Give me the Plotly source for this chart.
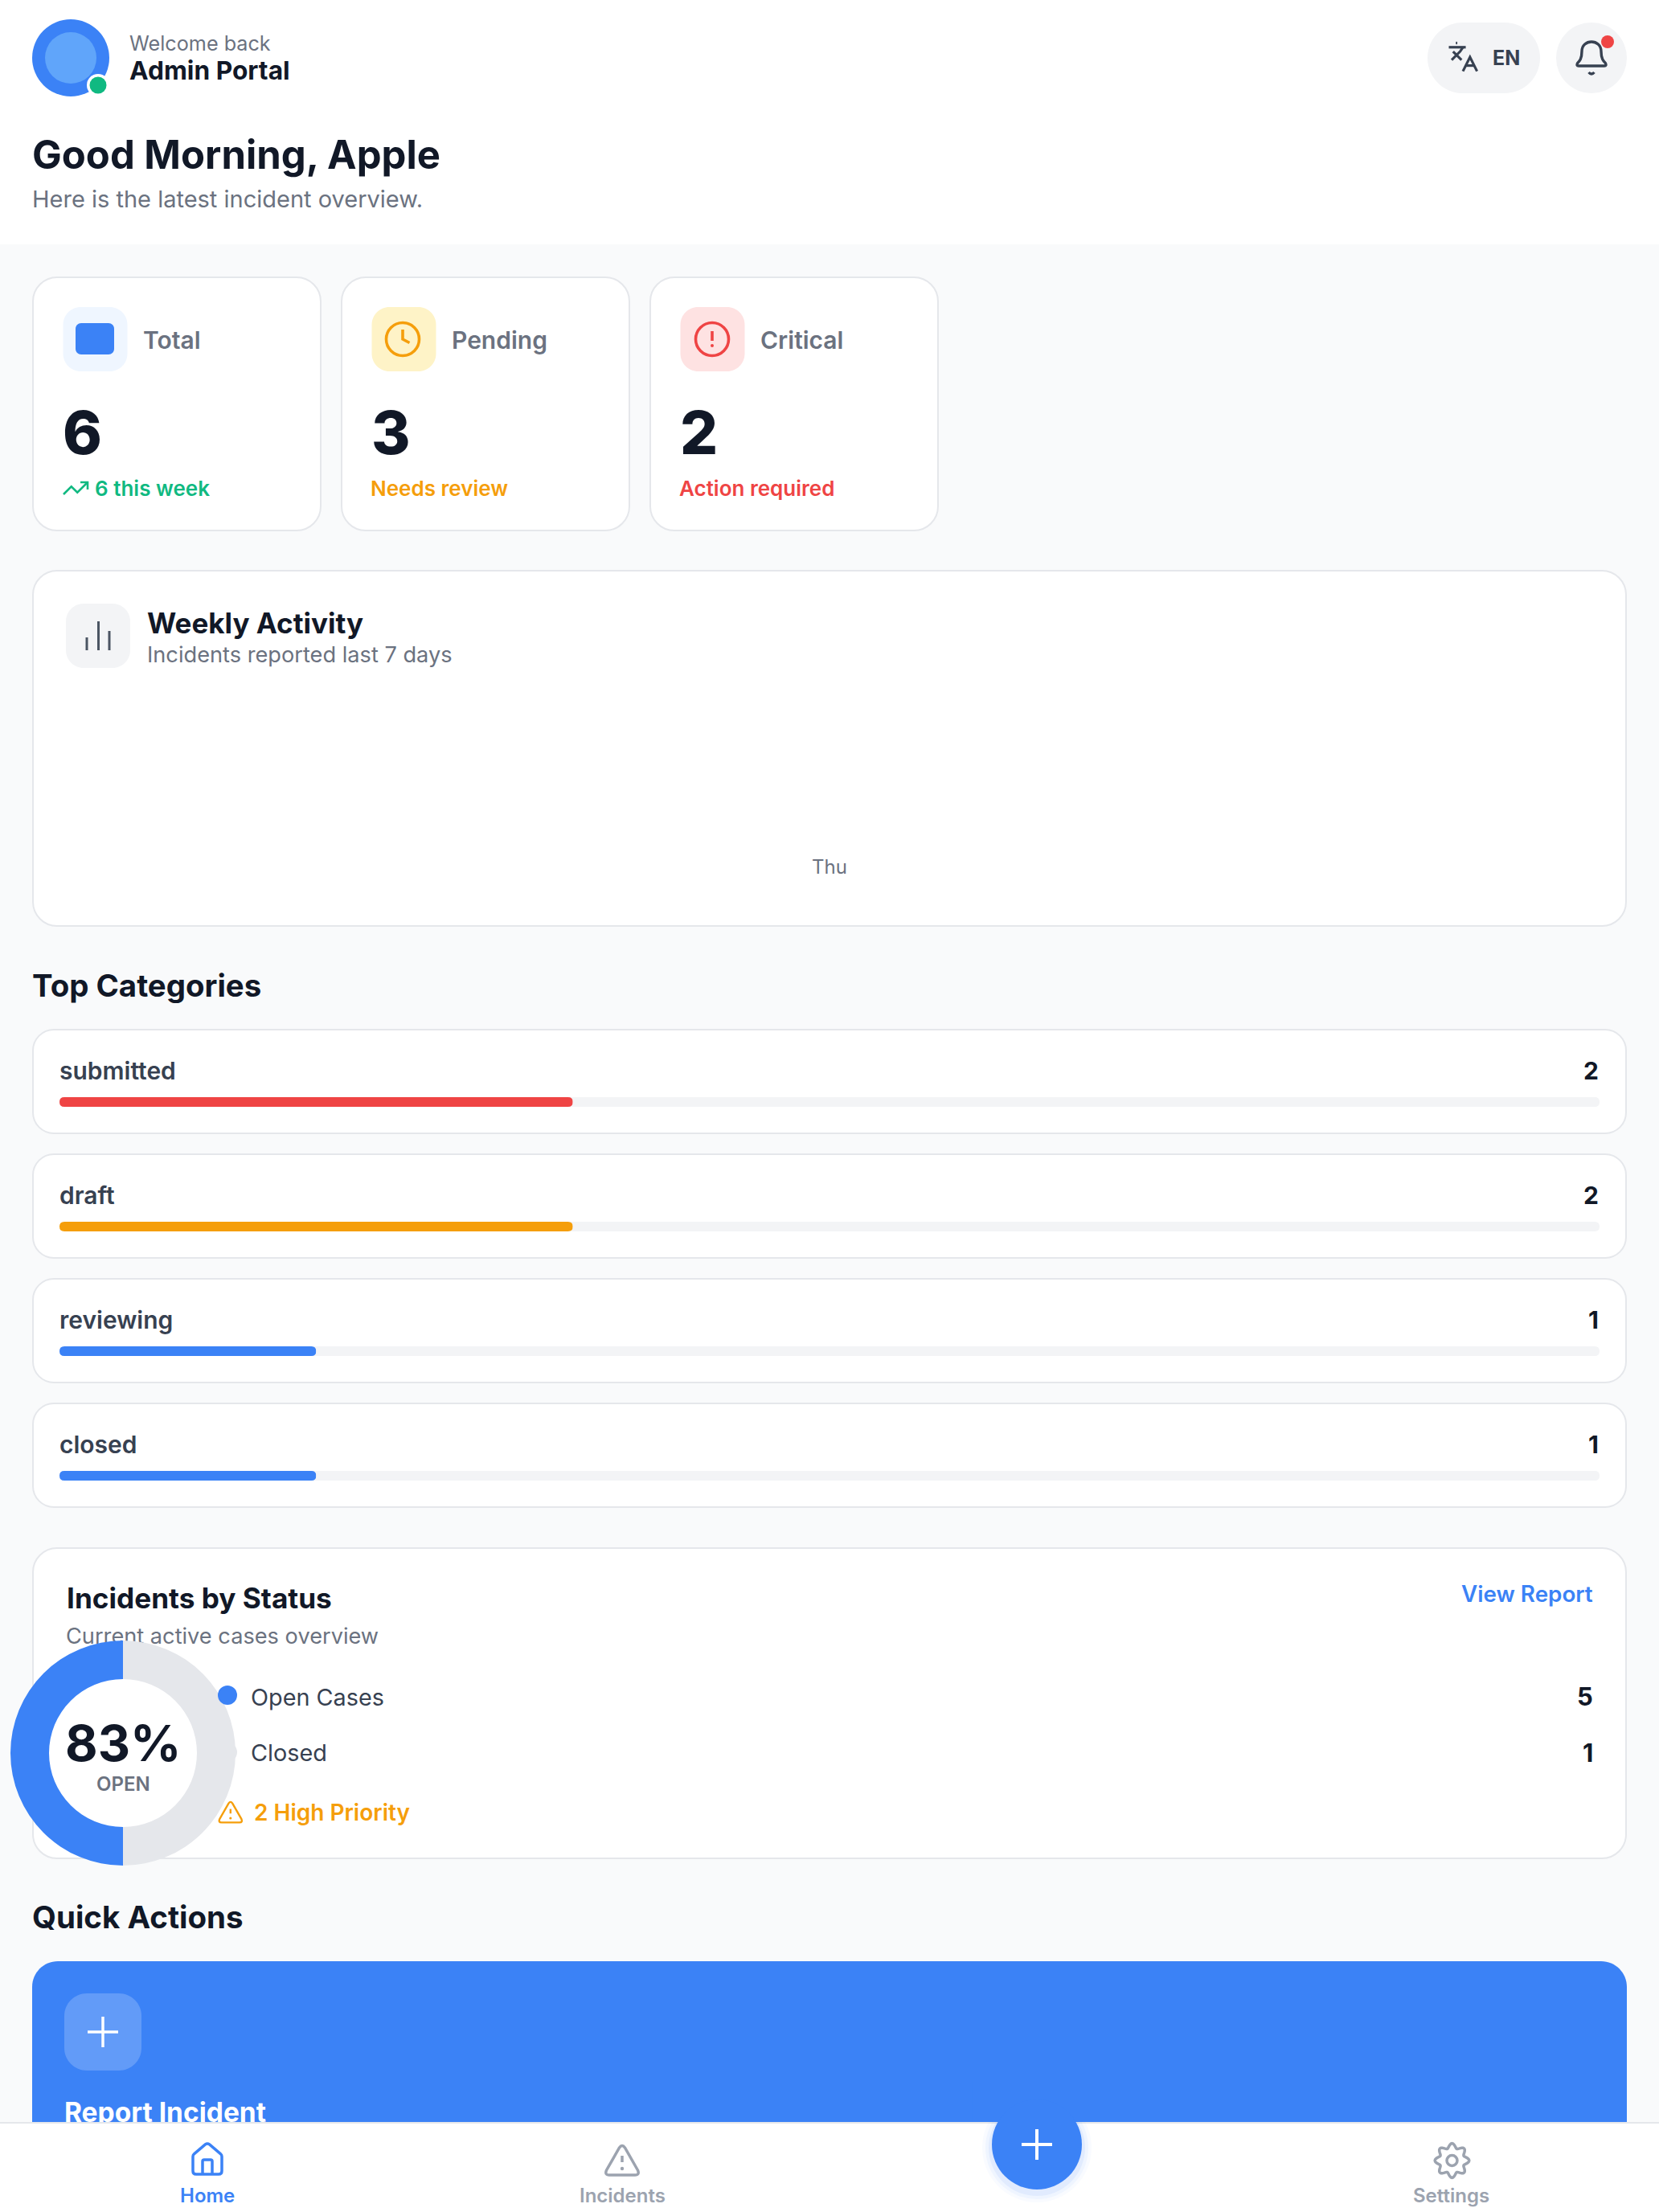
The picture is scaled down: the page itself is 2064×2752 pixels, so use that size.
import re
import numpy as np
import plotly.graph_objects as go

W, H = 2064, 2752

# ---------- data ----------
stat_labels = ["Total", "Pending", "Critical"]
stat_values = ["6", "3", "2"]
stat_notes = ["6 this week", "Needs review", "Action required"]
weekly_days = ["Thu"]
weekly_counts = [0]
category_names = ["submitted", "draft", "reviewing", "closed"]
category_counts = [2, 2, 1, 1]
category_total = [6, 6, 6, 6]
legend_names = ["Open Cases", "Closed"]
legend_counts = [5, 1]
donut_drawn = [50, 50]
donut_label = "83%"
nav_labels = ["Home", "Incidents", "Settings"]

# ---------- palette ----------
BLUE, AMBER, RED, GREEN = "#3b82f6", "#f59e0b", "#ef4444", "#10b981"
INK, SLATE, GREY, MUTED = "#111827", "#374151", "#6b7280", "#9ca3af"
BORDER, TRACK, PAGE = "#e5e7eb", "#f3f4f6", "#f9fafb"
category_colors = [RED, AMBER, BLUE, BLUE]
FONT = "Inter"
BAR_X0, BAR_X1 = 74, 1990

px = lambda v: v / W
py = lambda v: 1 - v / H
shapes, annos = [], []


def to_paper(path):
    out, is_x = [], True
    for tok in re.findall(r"[A-Za-z]|-?\d*\.?\d+", path):
        if tok.isalpha():
            out.append(tok)
            is_x = True
        else:
            out.append(f"{px(float(tok)) if is_x else py(float(tok)):.6f}")
            is_x = not is_x
    return " ".join(out)


def add_path(path, fill=None, line=None, lw=0, layer="below"):
    shapes.append(dict(type="path", xref="paper", yref="paper", path=to_paper(path), layer=layer,
                       fillcolor=fill or "rgba(0,0,0,0)",
                       line=dict(color=line or "rgba(0,0,0,0)", width=lw)))


def rrect(x0, y0, x1, y1, r, fill, line=None, lw=0, layer="below"):
    k = r * 0.448
    p = (f"M{x0+r} {y0} L{x1-r} {y0} C{x1-k} {y0} {x1} {y0+k} {x1} {y0+r} "
         f"L{x1} {y1-r} C{x1} {y1-k} {x1-k} {y1} {x1-r} {y1} "
         f"L{x0+r} {y1} C{x0+k} {y1} {x0} {y1-k} {x0} {y1-r} "
         f"L{x0} {y0+r} C{x0} {y0+k} {x0+k} {y0} {x0+r} {y0} Z")
    add_path(p, fill, line, lw, layer)


def circle(cx, cy, r, fill=None, line=None, lw=0, layer="below"):
    shapes.append(dict(type="circle", xref="paper", yref="paper", layer=layer,
                       x0=px(cx - r), x1=px(cx + r), y0=py(cy + r), y1=py(cy - r),
                       fillcolor=fill or "rgba(0,0,0,0)",
                       line=dict(color=line or "rgba(0,0,0,0)", width=lw)))


def icon(paths, x0, y0, s, color, lw, layer="above"):
    """paths: list of absolute M/L/Q/C/Z strings in a 24-unit icon box."""
    for path in paths:
        out, is_x = [], True
        for tok in re.findall(r"[A-Za-z]|-?\d*\.?\d+", path):
            if tok.isalpha():
                out.append(tok)
                is_x = True
            else:
                out.append(f"{x0 + float(tok) * s if is_x else y0 + float(tok) * s:.2f}")
                is_x = not is_x
        add_path(" ".join(out), None, color, lw, layer)


def text(x, y, s, size, color, weight=400, anchor="left"):
    if anchor == "left":
        x -= 1.5
    annos.append(dict(xref="paper", yref="paper", x=px(x), y=py(y), text=s, showarrow=False,
                      xanchor=anchor, yanchor="middle", borderpad=0,
                      font=dict(family=FONT, size=size, color=color, weight=weight)))


def end_mask(xe, ym, fill):
    """Corner mask that rounds the far end of a 12 px bar ending at xe."""
    add_path(f"M{xe-6} {ym-6} L{xe+1} {ym-6} L{xe+1} {ym+6} L{xe-6} {ym+6} "
             f"Q{xe} {ym+6} {xe} {ym} Q{xe} {ym-6} {xe-6} {ym-6} Z", fill, layer="above")


TRIANGLE = ["M21.73 18 L13.73 4 Q12 1.5 10.27 4 L2.27 18 Q1 21 4 21 L20 21 Q23 21 21.73 18 Z",
            "M12 9 L12 13"]

# ---------- header ----------
rrect(-4, -4, W + 4, 304, 0, "#ffffff")
circle(88, 72, 48, BLUE)
circle(88, 72, 32, "#60a5fa")
circle(122, 106, 14, "#ffffff")
circle(122, 106, 10.5, GREEN)
text(161, 53.5, "Welcome back", 25.2, GREY)
text(161, 87, "Admin Portal", 31.7, INK, 700)
text(40, 192, "Good Morning, Apple", 49, INK, 700)
text(40, 247, "Here is the latest incident overview.", 29, GREY)
rrect(1776, 28, 1916, 116, 44, TRACK)
icon(["M5 8 L11 14", "M4 14 L10 8 L12 5", "M2 5 L14 5", "M7 2 L8 2",
      "M22 22 L17 12 L12 22", "M14 18 L20 18"], 1799, 50, 1.755, SLATE, 3.2, "below")
text(1874, 72, "EN", 25, SLATE, 700, "center")
circle(1980, 72, 44, TRACK)
icon(["M10.27 21 Q12 23 13.73 21",
      "M3.26 15.33 Q2.4 17 4 17 L20 17 Q21.6 17 20.74 15.33 C19.41 13.96 18 12.5 18 8 "
      "C18 0 6 0 6 8 C6 12.5 4.59 13.96 3.26 15.33 Z"], 1956, 48, 2, SLATE, 3.4, "below")
circle(2000, 52, 8, RED)

# ---------- stat cards ----------
note_colors = [GREEN, AMBER, RED]
box_colors = ["#eff6ff", "#fef3c7", "#fee2e2"]
note_x = [118.5, 461.5, 845.5]
for i, (lab, val, note) in enumerate(zip(stat_labels, stat_values, stat_notes)):
    left = 41 + i * 384
    rrect(left, 345, left + 358, 660, 30, "#ffffff", BORDER, 2)
    rrect(left + 37.5, 382, left + 117.5, 462, 22, box_colors[i])
    text(left + 137, 423, lab, 30, GREY, 600)
    text(left + 37, 538, val, 74, INK, 800)
    text(note_x[i], 608, note, 26, note_colors[i], 600)
rrect(94, 402, 142, 441, 7, BLUE)
circle(501, 422, 20.5, None, AMBER, 3.6)
add_path("M501 410 L501 422 L509.5 426.5", None, AMBER, 3.6)
circle(886, 422, 20.5, None, RED, 3.6)
add_path("M886 412 L886 424", None, RED, 3.6)
circle(886, 430, 2, RED)
icon(["M22 7 L13.5 15.5 L8.5 10.5 L2 17", "M16 7 L22 7 L22 13"], 76, 589.5, 1.5, GREEN, 2.6, "below")

# ---------- weekly card ----------
rrect(41, 710, 2023, 1152, 30, "#ffffff", BORDER, 2)
rrect(82, 751, 162, 831, 22, TRACK)
for p in ["M108 809 L108 793", "M122.5 809 L122.5 773", "M136 809 L136 785"]:
    add_path(p, None, "#4b5563", 3)
text(183, 775, "Weekly Activity", 35, INK, 700)
text(183, 814, "Incidents reported last 7 days", 27.2, GREY)

# ---------- categories ----------
text(40, 1225.5, "Top Categories", 38.4, INK, 700)
for i, (name, cnt, tot) in enumerate(zip(category_names, category_counts, category_total)):
    rrect(41, 1281 + 155 * i, 2023, 1410 + 155 * i, 26, "#ffffff", BORDER, 2)
    text(74, 1332 + 155 * i, name, 30, SLATE, 600)
    text(1990, 1332 + 155 * i, str(cnt), 30, INK, 700, "right")
    ym = 1371 + 155 * i
    # rounded ends of the track and of the filled part
    add_path(f"M{BAR_X0+6} {ym-6} L{BAR_X0-1} {ym-6} L{BAR_X0-1} {ym+6} L{BAR_X0+6} {ym+6} "
             f"Q{BAR_X0} {ym+6} {BAR_X0} {ym} Q{BAR_X0} {ym-6} {BAR_X0+6} {ym-6} Z", "#ffffff", layer="above")
    end_mask(BAR_X1, ym, "#ffffff")
    end_mask(BAR_X0 + (BAR_X1 - BAR_X0) * cnt / tot, ym, TRACK)

# ---------- status card ----------
rrect(41, 1926, 2023, 2312, 30, "#ffffff", BORDER, 2)
text(83, 1988, "Incidents by Status", 35.2, INK, 700)
text(1983, 1983, "View Report", 27.8, BLUE, 600, "right")
circle(283, 2109, 12, BLUE, layer="above")
circle(283, 2180, 12, BORDER)
for i, (name, cnt) in enumerate(zip(legend_names, legend_counts)):
    text(312, 2111 + 69 * i, name, 28.8, SLATE)
    text(1983, 2110 + 70 * i, str(cnt), 31, INK, 700, "right")
text(316, 2255, "2 High Priority", 28, AMBER, 600)
icon(TRIANGLE, 270, 2238, 1.4, AMBER, 2.4)
circle(286.8, 2262, 1.6, AMBER, layer="above")
text(153, 2168, donut_label, 62.5, INK, 700, "center")
text(153, 2219, "OPEN", 24, GREY, 600, "center")

# ---------- quick actions ----------
text(40, 2385, "Quick Actions", 38.5, INK, 700)
rrect(40, 2440, 2024, 2700, 32, BLUE)
rrect(80, 2480, 176, 2576, 28, "#629bf8")
add_path("M128 2509 L128 2547", None, "#ffffff", 3.5)
add_path("M109 2528 L147 2528", None, "#ffffff", 3.5)

# ---------- bottom navigation (drawn above the clipped text) ----------
rrect(-4, 2640, W + 4, H + 4, 0, "#ffffff", layer="above")
shapes.append(dict(type="line", xref="paper", yref="paper", layer="above", x0=0, x1=1,
                   y0=py(2641), y1=py(2641), line=dict(color=BORDER, width=2)))
for r, a in [(68, 0.03), (64, 0.05), (60, 0.08)]:
    circle(1290, 2672, r, f"rgba(59,130,246,{a})", layer="above")
rrect(1210, 2590, 1370, 2640, 0, BLUE, layer="above")
circle(1290, 2668, 56, BLUE, layer="above")
add_path("M1290 2649 L1290 2687", None, "#ffffff", 4, "above")
add_path("M1271 2668 L1309 2668", None, "#ffffff", 4, "above")
icon(["M3 10 Q3 9 3.7 8.47 L10.7 2.47 Q12 1.5 13.3 2.47 L20.3 8.47 Q21 9 21 10 L21 19 "
      "Q21 21 19 21 L5 21 Q3 21 3 19 Z", "M15 21 L15 13 Q15 12 14 12 L10 12 Q9 12 9 13 L9 21"],
     234, 2663, 2, BLUE, 3.5)
icon(TRIANGLE, 750, 2664, 2, MUTED, 3.5)
circle(774, 2698, 2.2, MUTED, layer="above")
theta = np.linspace(0, 2 * np.pi, 97)
radius = 18.5 + 2.8 * np.cos(8 * theta)
gear = "M" + " L".join(f"{1806.5 + r * np.sin(t):.2f} {2688 - r * np.cos(t):.2f}" for r, t in zip(radius, theta)) + " Z"
add_path(gear, None, MUTED, 3.5, "above")
circle(1806.5, 2688, 6.5, None, MUTED, 3.5, "above")
for lab, x, col in zip(nav_labels, [258, 774, 1805], [BLUE, MUTED, MUTED]):
    text(x, 2731, lab, 24, col, 600, "center")

# ---------- figure ----------
fig = go.Figure()

fig.add_trace(go.Bar(x=weekly_days, y=weekly_counts, xaxis="x", yaxis="y",
                     marker=dict(color="rgba(59,130,246,0)", line=dict(width=0)),
                     showlegend=False, hoverinfo="skip"))
fig.add_trace(go.Bar(y=category_names, x=category_total, orientation="h", xaxis="x2", yaxis="y2",
                     width=12 / 155, marker=dict(color=TRACK, line=dict(width=0)),
                     showlegend=False, hoverinfo="skip"))
fig.add_trace(go.Bar(y=category_names, x=category_counts, orientation="h", xaxis="x2", yaxis="y2",
                     width=12 / 155, marker=dict(color=category_colors, line=dict(width=0)),
                     showlegend=False, hoverinfo="skip"))
# Text that something is painted over has to live under the donut and the nav bar.
fig.add_trace(go.Scatter(x=[82], y=[2038], mode="text", xaxis="x3", yaxis="y3",
                         text=["Current active cases overview"], textposition="middle right",
                         textfont=dict(family=FONT, size=27.2, color=GREY),
                         showlegend=False, hoverinfo="skip"))
fig.add_trace(go.Scatter(x=[80], y=[2632], mode="text", xaxis="x3", yaxis="y3",
                         text=["Report Incident"], textposition="middle right",
                         textfont=dict(family=FONT, size=33.5, color="#ffffff", weight=700),
                         showlegend=False, hoverinfo="skip"))
fig.add_trace(go.Pie(values=donut_drawn, labels=legend_names, hole=92 / 140, sort=False,
                     direction="clockwise", rotation=0, textinfo="none",
                     marker=dict(colors=[BORDER, BLUE], line=dict(width=0)),
                     domain=dict(x=[px(13), px(293)], y=[py(2321), py(2041)]),
                     showlegend=False, hoverinfo="skip"))

hidden = dict(visible=False, fixedrange=True)
fig.update_layout(
    width=W, height=H, margin=dict(l=0, r=0, t=0, b=0, pad=0, autoexpand=False),
    paper_bgcolor=PAGE, plot_bgcolor="rgba(0,0,0,0)", barmode="overlay", hovermode=False,
    shapes=shapes, annotations=annos,
    xaxis=dict(domain=[px(BAR_X0), px(BAR_X1)], anchor="y", type="category", showgrid=False, showline=False,
               zeroline=False, ticks="", fixedrange=True,
               tickfont=dict(family=FONT, size=24, color=GREY)),
    yaxis=dict(domain=[py(1062), py(860)], anchor="x", range=[0, 1], **hidden),
    xaxis2=dict(domain=[px(BAR_X0), px(BAR_X1)], anchor="y2", range=[0, 6], **hidden),
    yaxis2=dict(domain=[py(1913.5), py(1293.5)], anchor="x2", type="category", range=[3.5, -0.5],
                categoryorder="array", categoryarray=category_names, **hidden),
    xaxis3=dict(domain=[0, 1], anchor="y3", range=[0, W], **hidden),
    yaxis3=dict(domain=[0, 1], anchor="x3", range=[H, 0], **hidden),
)

fig.write_html("out.html", post_script="document.body.style.margin='0';document.body.style.overflow='hidden';",
               config=dict(displayModeBar=False))
